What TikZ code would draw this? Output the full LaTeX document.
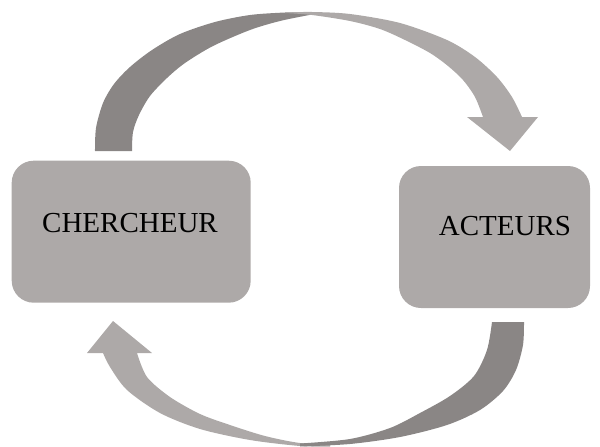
\documentclass[tikz,border=0pt]{standalone}
\usepackage{fontspec}
\setmainfont{Liberation Serif}
\definecolor{darkarc}{HTML}{8A8685}
\definecolor{lightarc}{HTML}{ADA9A8}
\definecolor{boxgray}{HTML}{ADA9A8}
\begin{document}
\begin{tikzpicture}[x=1pt,y=-1pt,
  box/.style={fill=boxgray, rounded corners=22pt, inner sep=0pt},
  lbl/.style={font=\fontsize{29}{34}\selectfont, anchor=base, inner sep=0pt, text=black}]
\useasboundingbox (0,0) rectangle (600,447);
% boxes
\node[box, minimum width=239pt, minimum height=142pt] (cher) at (131.2,231.7) {};
\node[box, minimum width=191pt, minimum height=142pt] (act) at (494.5,237) {};
\node[lbl] (chertxt) at (130,232) {CHERCHEUR};
\node[lbl] (acttxt) at (505,235.5) {ACTEURS};
% top curved arrow: back (dark) part
\fill[darkarc] plot[smooth] coordinates {(95,151) (96,128) (103,103) (114,84) (130,67) (152,50) (180,34) (215,22) (250,15) (285,12.5) (312,12)}
  -- plot[smooth] coordinates {(312,14.5) (280,21) (250,30) (213,46) (185,63) (167,78) (150,96) (139,115) (133,132) (132,151)} -- cycle;
% top curved arrow: front (light) part with head
\fill[lightarc] plot[smooth] coordinates {(285,12.5) (312,12) (350,14) (400,23) (447,40) (475,57) (497,77) (512,97) (522,117)}
  -- (538,117) -- (510,151) -- (467,117)
  -- plot[smooth] coordinates {(483,117) (475,97) (463,80) (448,66) (430,53) (405,40) (380,29) (350,21) (312,15) (285,13)} -- cycle;
% bottom curved arrow: front (light) part with head
\fill[lightarc] (113,321) -- (152,353)
  -- plot[smooth] coordinates {(137,353) (147,377) (170,397) (200,414) (230,425) (265,436) (300,443) (330,444)}
  -- plot[smooth] coordinates {(330,446.5) (300,446) (250,440) (200,429) (160,413) (127,390) (110,367) (103,353)}
  -- (87,353) -- cycle;
% bottom curved arrow: back (dark) part
\fill[darkarc] plot[smooth] coordinates {(524,322) (523,345) (516,370) (503,391) (480,410) (447,425) (400,437) (350,444) (300,446.5)}
  -- plot[smooth] coordinates {(300,443.5) (350,439) (390,428) (420,413) (450,396) (474,376) (487,350) (492,322)} -- cycle;
\end{tikzpicture}
\end{document}
